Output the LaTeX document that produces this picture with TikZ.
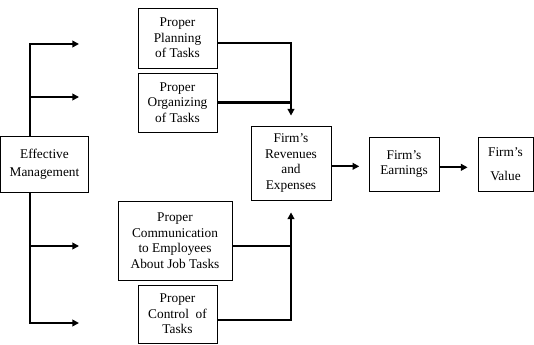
\documentclass[tikz,border=0pt]{standalone}
\usepackage{fontspec}
\setmainfont{Liberation Serif}
\usetikzlibrary{arrows.meta}
\begin{document}
\begin{tikzpicture}[x=0.75pt, y=-0.75pt,
    box/.style={draw, line width=0.6pt, align=center, inner sep=1pt,
      font=\fontsize{10}{11.6}\selectfont},
    link/.style={line width=1.6pt},
    arr/.style={line width=1.6pt, -{Triangle[length=5pt,width=5pt]}}]
  \useasboundingbox (0,0) rectangle (534,345);

  \node[box, minimum width=65.6pt, minimum height=42pt] (eff) at (44.5,164) {Effective\\[2pt]Management};

  \node[box, minimum width=59.25pt, minimum height=45pt] (plan) at (177.5,38) {Proper\\Planning\\of Tasks};
  \node[box, minimum width=59.25pt, minimum height=44.25pt] (org) at (177.5,102.5) {Proper\\Organizing\\of Tasks};
  \node[box, minimum width=85.5pt, minimum height=59.25pt] (comm) at (175,240.5) {Proper\\Communication\\to Employees\\About Job Tasks};
  \node[box, minimum width=59.25pt, minimum height=43.5pt] (ctrl) at (177.5,314) {Proper\\Control\ \ of\\Tasks};

  \node[box, minimum width=60pt, minimum height=55.5pt] (rev) at (291,163) {Firm’s\\Revenues\\and\\Expenses};
  \node[box, minimum width=52.5pt, minimum height=40.5pt] (earn) at (404,164) {Firm’s\\Earnings};
  \node[box, minimum width=41.25pt, minimum height=40.5pt] (val) at (505.5,164) {Firm’s\\[6pt]Value};

  \coordinate (etop) at (30,44);
  \coordinate (ebot) at (30,323);
  \coordinate (e1) at (79,44);
  \coordinate (e2) at (79,97);
  \coordinate (e3) at (79,246);
  \coordinate (e4) at (79,323);

  \draw[arr] (etop |- eff.north) -- (etop) -- (e1);
  \draw[arr] (etop |- e2) -- (e2);
  \draw[arr] (ebot |- eff.south) -- (ebot) -- (e4);
  \draw[arr] (ebot |- e3) -- (e3);

  \coordinate (jtop) at (291,43);
  \coordinate (jmid) at (291,246);
  \coordinate (jbot) at (291,320);

  \draw[arr, shorten >=7.5pt] (plan.east |- jtop) -- (jtop) -- (rev.north);
  \draw[link] (org.east) -- (org.east -| jtop);
  \draw[arr, shorten >=9pt] (ctrl.east |- jbot) -- (jbot) -- (rev.south);
  \draw[link] (comm.east |- jmid) -- (jmid);

  \draw[arr, shorten >=7pt] ([yshift=-2.5pt]rev.east) -- ([yshift=-2.5pt]rev.east -| earn.west);
  \draw[arr, shorten >=7.5pt] ([yshift=-2.5pt]earn.east) -- ([yshift=-2.5pt]earn.east -| val.west);
\end{tikzpicture}
\end{document}
